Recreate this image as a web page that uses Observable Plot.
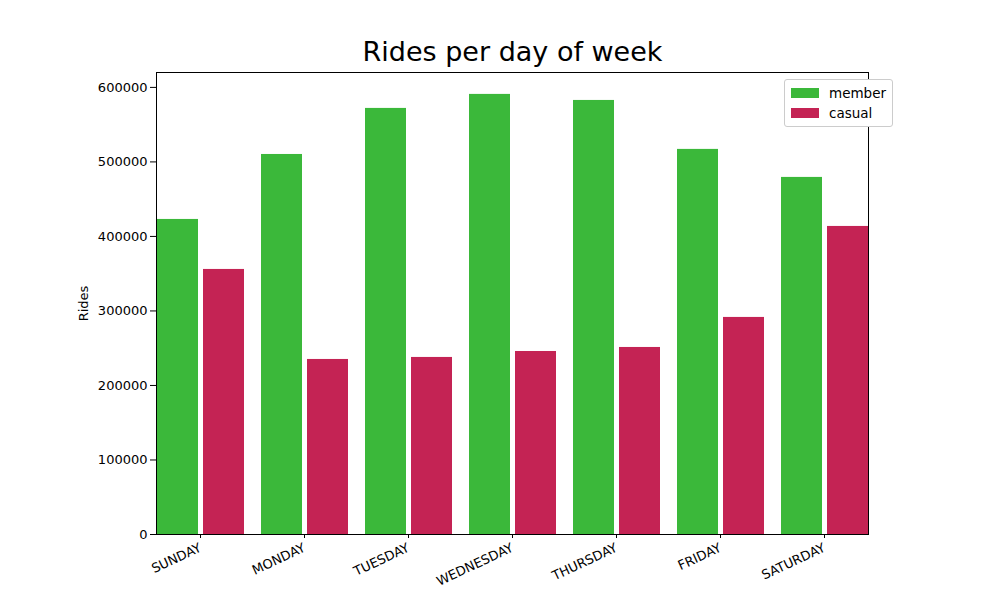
<!DOCTYPE html>
<html>
<head>
<meta charset="utf-8">
<script src="https://cdn.jsdelivr.net/npm/d3@7"></script>
<script src="https://cdn.jsdelivr.net/npm/@observablehq/plot@0.6"></script>
<style>
  body { margin: 0; background: #fff; font-family: "DejaVu Sans", sans-serif; }
  #wrap { position: relative; width: 1000px; height: 600px; }
  #title { position: absolute; top: 36px; left: 125px; width: 775px; text-align: center; font-size: 27px; }
  #legend { position: absolute; top: 79px; left: 784px; border: 1px solid #ccc; border-radius: 3px;
    padding: 3px 6px 3px 6px; font-size: 13.5px; background: #fff; }
  #legend div { display: flex; align-items: center; height: 20px; }
  #legend span.sw { display: inline-block; width: 28px; height: 10px; margin-right: 10px; }
</style>
</head>
<body>
<div id="wrap">
  <div id="chart"></div>
  <div id="title">Rides per day of week</div>
  <div id="legend"></div>
</div>
<script>
const days = ["SUNDAY", "MONDAY", "TUESDAY", "WEDNESDAY", "THURSDAY", "FRIDAY", "SATURDAY"];
const types = ["member", "casual"];
const memberRides = [422800, 510000, 571800, 590600, 582500, 516800, 479200];
const casualRides = [355700, 234900, 237600, 245600, 251000, 291300, 413400];
const colors = ["#3bb83a", "#c42354"];

const rows = [];
days.forEach((day, i) => {
  rows.push({ day, type: "member", rides: memberRides[i] });
  rows.push({ day, type: "casual", rides: casualRides[i] });
});

//Legend
const legend = document.getElementById("legend");
types.forEach((t, i) => {
  const row = document.createElement("div");
  row.innerHTML = `<span class="sw" style="background:${colors[i]}"></span>${t}`;
  legend.appendChild(row);
});

document.getElementById("chart").appendChild(
  Plot.plot({
    width: 1000,
    height: 600,
    marginLeft: 125,
    marginRight: 100,
    marginTop: 72,
    marginBottom: 66,
    style: { fontSize: "13px", fontFamily: "DejaVu Sans, sans-serif", color: "#000" },
    fx: { domain: days, paddingInner: 0.15, paddingOuter: 0.27, label: null, tickRotate: -25, tickSize: 4 },
    x: { domain: types, paddingInner: 0.11, paddingOuter: 0, axis: null },
    y: { domain: [0, 620000], ticks: d3.range(0, 600001, 100000), tickFormat: "d", label: "Rides", labelAnchor: "center", labelArrow: "none", labelOffset: 78 },
    color: { domain: types, range: colors },
    marks: [
      Plot.barY(rows, { fx: "day", x: "type", y: "rides", fill: "type" }),
      Plot.frame({ stroke: "#000", facet: "super" })
    ]
  })
);
</script>
</body>
</html>
